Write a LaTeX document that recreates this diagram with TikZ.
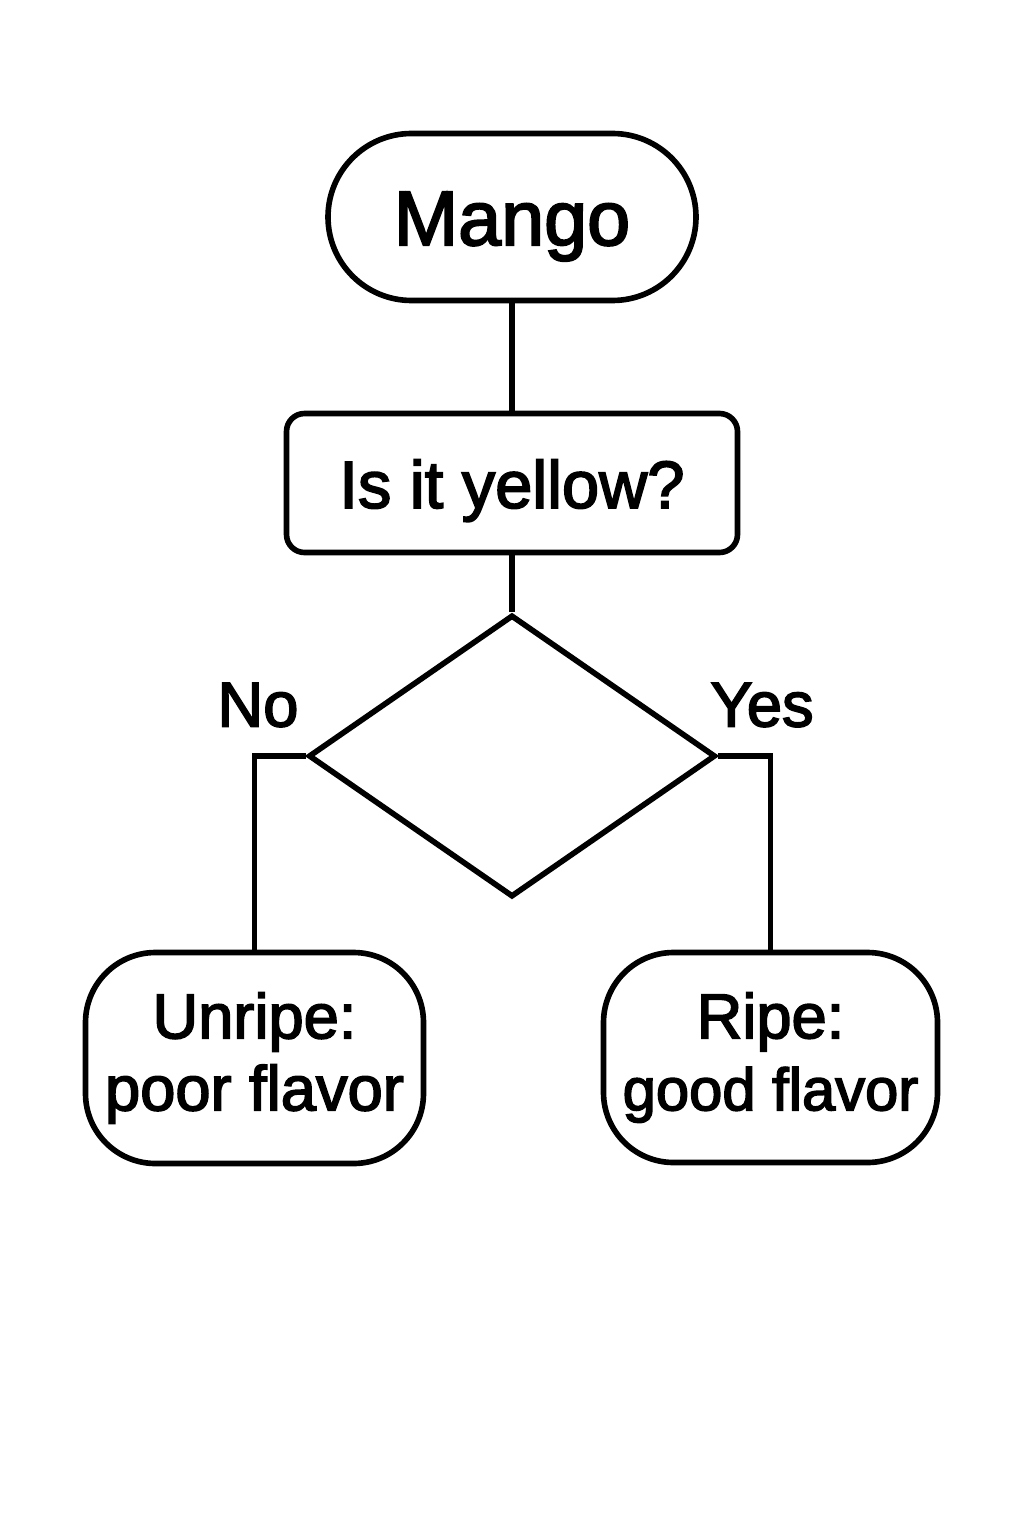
\documentclass[tikz,border=0pt]{standalone}
\usepackage{fontspec}
\setmainfont{Liberation Sans}[FakeBold=2.6]
\usetikzlibrary{shapes.geometric}
\begin{document}
\begin{tikzpicture}[line width=3.2pt,
    box/.style={draw, rounded corners=#1, align=center, inner sep=0pt},
    txt/.style={font=\fontsize{36}{41}\selectfont}]
    \useasboundingbox (0,0) rectangle (20.48,-30.72);
    \node (mango) [box=1.67cm, minimum width=7.36cm, minimum height=3.34cm, text height=42pt, text depth=10pt, font=\fontsize{44}{50}\selectfont] at (10.24,-4.34) {Mango};
    \node (ask) [box=0.36cm, minimum width=9.02cm, minimum height=2.78cm, text height=37.4pt, text depth=9pt, font=\fontsize{38}{44}\selectfont] at (10.24,-9.66) {Is it yellow?};
    \node (dia) [draw, diamond, inner sep=0pt, minimum width=8.14cm, minimum height=5.64cm] at (10.24,-15.12) {};
    \node (unripe) [box=1.4cm, minimum width=6.76cm, minimum height=4.22cm, txt] at (5.09,-21.16) {Unripe:\\poor flavor};
    \node (ripe) [box=1.4cm, minimum width=6.68cm, minimum height=4.2cm, txt] at (15.41,-21.15) {Ripe:\\{\fontsize{34}{41}\selectfont good flavor}};
    \node (no) [txt] at (5.16,-14.1) {No};
    \node (yes) [txt] at (15.24,-14.1) {Yes};
    \draw (mango) -- (ask);
    \draw (ask) -- (dia.north);
    \draw (dia.west) -| (unripe.north);
    \draw (dia.east) -| (ripe.north);
\end{tikzpicture}
\end{document}
